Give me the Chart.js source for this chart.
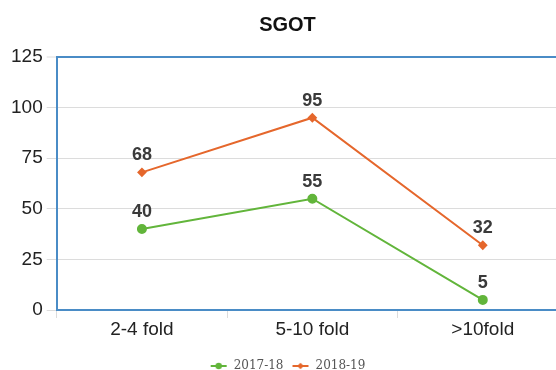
<!DOCTYPE html>
<html>
<head>
<meta charset="utf-8">
<script src="https://cdn.jsdelivr.net/npm/chart.js@4/dist/chart.umd.min.js"></script>
<style>
  html, body { margin: 0; padding: 0; background: #fff; }
  #wrap { width: 556px; height: 370px; overflow: hidden; position: relative; }
  canvas { display: block; }
</style>
</head>
<body>
<div id="wrap"><canvas id="c" width="584" height="382"></canvas></div>
<script>
// SGOT elevation counts by fold range
const categories = ['2-4 fold', '5-10 fold', '>10fold'];
const seriesNames = ['2017-18', '2018-19'];
const values2017 = [40, 55, 5];
const values2018 = [68, 95, 32];
const yTicks = [0, 25, 50, 75, 100, 125];

const GREEN = '#62b53b';
const ORANGE = '#e5672c';
const AXIS_BLUE = '#4a8cc6';
const GRID = '#dcdcdc';
const SANS = '"Liberation Sans", Arial, sans-serif';

// small line-with-marker icons for the legend
function legendIcon(color, diamond) {
  const c = document.createElement('canvas');
  c.width = 18; c.height = 8;
  const g = c.getContext('2d');
  g.strokeStyle = color; g.lineWidth = 2;
  g.beginPath(); g.moveTo(1, 4); g.lineTo(17, 4); g.stroke();
  g.fillStyle = color;
  g.beginPath();
  if (diamond) {
    g.moveTo(9, 0.8); g.lineTo(12.2, 4); g.lineTo(9, 7.2); g.lineTo(5.8, 4); g.closePath();
  } else {
    g.arc(9, 4, 3.2, 0, Math.PI * 2);
  }
  g.fill();
  return c;
}
const icons = [legendIcon(GREEN, false), legendIcon(ORANGE, true)];

// value labels above each point
const valueLabels = {
  id: 'valueLabels',
  afterDatasetsDraw(chart) {
    const ctx = chart.ctx;
    ctx.save();
    ctx.font = 'bold 18px ' + SANS;
    ctx.fillStyle = '#3a3a3a';
    ctx.textAlign = 'center';
    ctx.textBaseline = 'middle';
    chart.data.datasets.forEach((ds, i) => {
      chart.getDatasetMeta(i).data.forEach((pt, j) => {
        ctx.fillText(String(ds.data[j]), pt.x, pt.y - 17);
      });
    });
    ctx.restore();
  }
};

new Chart(document.getElementById('c'), {
  type: 'line',
  data: {
    labels: categories,
    datasets: [
      {
        label: seriesNames[0], data: values2017,
        borderColor: GREEN, backgroundColor: GREEN,
        borderWidth: 2, pointStyle: 'circle', pointRadius: 4, pointHoverRadius: 4,
        tension: 0
      },
      {
        label: seriesNames[1], data: values2018,
        borderColor: ORANGE, backgroundColor: ORANGE,
        borderWidth: 2, pointStyle: 'rectRot', pointRadius: 3.5, pointHoverRadius: 3.5,
        tension: 0
      }
    ]
  },
  options: {
    responsive: false,
    animation: false,
    devicePixelRatio: 1,
    layout: { padding: { left: 7, right: 16, top: 4, bottom: 0 } },
    plugins: {
      title: {
        display: true, text: 'SGOT', color: '#111',
        font: { family: SANS, size: 20, weight: 'bold' },
        padding: { top: 9, bottom: 20 }
      },
      legend: {
        position: 'bottom',
        labels: {
          usePointStyle: true, pointStyleWidth: 18, boxHeight: 8,
          color: '#555',
          font: { family: '"DejaVu Serif", "Liberation Serif", serif', size: 12 },
          padding: 8,
          generateLabels(chart) {
            const items = Chart.defaults.plugins.legend.labels.generateLabels(chart);
            items.forEach((it, i) => { it.pointStyle = icons[i]; });
            return items;
          }
        }
      },
      tooltip: { enabled: false }
    },
    scales: {
      x: {
        offset: true,
        afterFit(scale) { scale.height = 42; },
        grid: {
          offset: true, drawOnChartArea: false, drawTicks: true,
          tickLength: 8, tickColor: GRID, tickWidth: 1
        },
        border: { display: true, color: AXIS_BLUE, width: 2 },
        ticks: {
          color: '#222', padding: 0,
          font: { family: SANS, size: 19 }
        }
      },
      y: {
        min: 0, max: 125,
        afterBuildTicks(scale) { scale.ticks = yTicks.map(v => ({ value: v })); },
        grid: {
          color: (c) => (c.tick && c.tick.value === 125 ? AXIS_BLUE : GRID),
          lineWidth: (c) => (c.tick && c.tick.value === 125 ? 2 : 1),
          tickColor: GRID, tickLength: 10, tickWidth: 1
        },
        border: { display: true, color: AXIS_BLUE, width: 2 },
        ticks: {
          color: '#222', padding: 4,
          font: { family: SANS, size: 19 }
        }
      }
    }
  },
  plugins: [valueLabels]
});
</script>
</body>
</html>
